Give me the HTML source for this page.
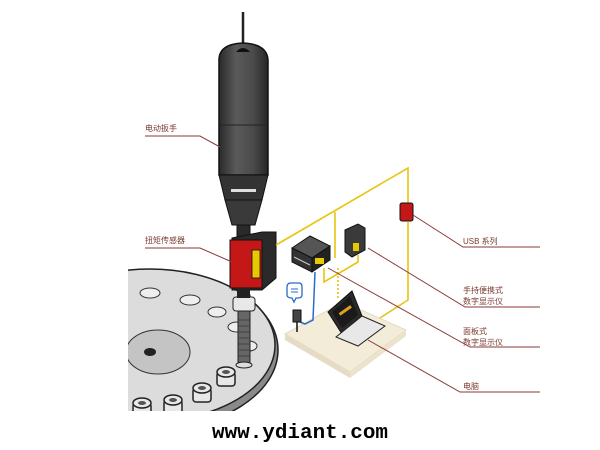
<!DOCTYPE html>
<html><head><meta charset="utf-8"><style>
html,body{margin:0;padding:0;background:#fff;}
svg{display:block;}
.l{font-family:"Liberation Sans","Noto Sans CJK SC",sans-serif;font-size:8px;fill:#7a3a30;}
</style></head><body>
<svg width="600" height="450" viewBox="0 0 600 450" xmlns="http://www.w3.org/2000/svg">
<defs>
<linearGradient id="tg" x1="0" x2="1"><stop offset="0" stop-color="#2a2a2a"/><stop offset="0.35" stop-color="#5a5a5a"/><stop offset="0.7" stop-color="#4a4a4a"/><stop offset="1" stop-color="#262626"/></linearGradient>
<clipPath id="dc"><rect x="128" y="0" width="300" height="411"/></clipPath>
</defs>
<g clip-path="url(#dc)">
<ellipse cx="150" cy="350" rx="128" ry="80" fill="#8a8a8a" stroke="#222" stroke-width="1.5"/>
<ellipse cx="150" cy="345" rx="125" ry="76" fill="#dcdcdc" stroke="#222" stroke-width="1.5"/>
<ellipse cx="158" cy="352" rx="32" ry="22" fill="#c4c4c4" stroke="#333"/>
<ellipse cx="150" cy="352" rx="6" ry="4" fill="#222"/>
<ellipse cx="150" cy="293" rx="10" ry="5" fill="#eee" stroke="#333"/>
<ellipse cx="190" cy="300" rx="10" ry="5" fill="#eee" stroke="#333"/>
<ellipse cx="217" cy="312" rx="9" ry="5" fill="#eee" stroke="#333"/>
<ellipse cx="237" cy="327" rx="9" ry="5" fill="#eee" stroke="#333"/>
<ellipse cx="249" cy="346" rx="8" ry="5" fill="#eee" stroke="#333"/>
<g fill="#e8e8e8" stroke="#222" stroke-width="1.5">
<rect x="217" y="372" width="18" height="14" rx="3"/><ellipse cx="226" cy="372" rx="9" ry="5"/>
<rect x="193" y="388" width="18" height="14" rx="3"/><ellipse cx="202" cy="388" rx="9" ry="5"/>
<rect x="164" y="400" width="18" height="14" rx="3"/><ellipse cx="173" cy="400" rx="9" ry="5"/>
<rect x="133" y="403" width="18" height="14" rx="3"/><ellipse cx="142" cy="403" rx="9" ry="5"/>
</g>
<g fill="#555"><ellipse cx="226" cy="372" rx="4" ry="2"/><ellipse cx="202" cy="388" rx="4" ry="2"/><ellipse cx="173" cy="400" rx="4" ry="2"/><ellipse cx="142" cy="403" rx="4" ry="2"/></g>
</g>
<rect x="238" y="295" width="12" height="70" fill="#666" stroke="#222"/>
<g stroke="#333" stroke-width="0.7"><line x1="238" y1="320" x2="250" y2="320"/><line x1="238" y1="326" x2="250" y2="326"/><line x1="238" y1="332" x2="250" y2="332"/><line x1="238" y1="338" x2="250" y2="338"/><line x1="238" y1="344" x2="250" y2="344"/><line x1="238" y1="350" x2="250" y2="350"/><line x1="238" y1="356" x2="250" y2="356"/></g>
<rect x="233" y="297" width="22" height="14" rx="3" fill="#e8e8e8" stroke="#222"/>
<ellipse cx="244" cy="365" rx="8" ry="3" fill="#ddd" stroke="#222"/>
<line x1="243" y1="12" x2="243" y2="46" stroke="#222" stroke-width="2.5"/>
<path d="M219 60 Q219 44 243 43 Q267 44 268 60 L268 175 L219 175 Z" fill="url(#tg)" stroke="#111" stroke-width="1.5"/>
<path d="M236 52 Q243 44 250 52 Z" fill="#111"/>
<line x1="219" y1="125" x2="268" y2="125" stroke="#222"/>
<path d="M219 175 L268 175 L262 200 L225 200 Z" fill="#333" stroke="#111"/>
<rect x="231" y="189" width="25" height="3" fill="#ddd"/>
<path d="M225 200 L262 200 L255 225 L232 225 Z" fill="#3a3a3a" stroke="#111"/>
<rect x="237" y="225" width="13" height="15" fill="#2a2a2a" stroke="#111"/>
<path d="M232 238 L262 232 L276 232 L276 278 L262 290 L232 290 Z" fill="#2a2a2a" stroke="#111"/>
<path d="M230 240 L262 240 L262 288 L230 288 Z" fill="#c41818" stroke="#111"/>
<rect x="252" y="250" width="8" height="28" fill="#e8c800" stroke="#111" stroke-width="0.8"/>
<rect x="237" y="288" width="13" height="10" fill="#222"/>
<polygon points="285,334 343,302 406,330 350,372" fill="#f3ecd8" stroke="#e2dac5"/>
<polygon points="285,334 350,372 350,378 285,340" fill="#e5dcc3"/>
<polygon points="350,372 406,330 406,336 350,378" fill="#ebe3cc"/>
<g stroke="#e8c410" stroke-width="1.6" fill="none">
<polyline points="276,245 408,168 408,205"/>
<polyline points="408,222 408,300 380,318"/>
<polyline points="335,212 335,258"/>
<polyline points="324,268 324,282 358,262 358,255"/>
<line x1="338" y1="268" x2="338" y2="300" stroke-dasharray="2,2"/>
</g>
<polygon points="292,248 310,236 330,246 312,258" fill="#555" stroke="#111"/>
<polygon points="292,248 312,258 312,272 292,262" fill="#333" stroke="#111"/>
<polygon points="312,258 330,246 330,260 312,272" fill="#222" stroke="#111"/>
<rect x="315" y="258" width="9" height="6" fill="#e8c800"/>
<line x1="294" y1="257" x2="310" y2="265" stroke="#ccc"/>
<path d="M345 230 L358 224 L365 228 L365 250 L352 257 L345 252 Z" fill="#3a3a3a" stroke="#111"/>
<rect x="353" y="243" width="6" height="8" fill="#e8c800"/>
<rect x="400" y="203" width="13" height="18" rx="2" fill="#c41818" stroke="#111"/>
<polyline points="315,272 313,320 305,324 300,322" stroke="#2a6ac8" stroke-width="1.5" fill="none"/>
<path d="M287 287 Q287 283 291 283 L299 283 Q302 283 302 287 L302 295 Q302 298 298 298 L296 298 L294 302 L292 298 Q287 298 287 295 Z" fill="#fff" stroke="#2a6ac8" stroke-width="1.3"/>
<line x1="291" y1="289" x2="298" y2="289" stroke="#2a6ac8"/><line x1="291" y1="292" x2="298" y2="292" stroke="#2a6ac8"/>
<rect x="293" y="310" width="8" height="12" fill="#444" stroke="#111"/>
<line x1="297" y1="322" x2="297" y2="332" stroke="#111" stroke-width="1.5"/>
<polygon points="328,312 352,291 362,316 342,334" fill="#2a2a2a" stroke="#111"/>
<polygon points="332,312 350,296 358,315 342,328" fill="#1a1a1a"/>
<rect x="338" y="309" width="14" height="3" fill="#e0a020" transform="rotate(-35 345 310)"/>
<polygon points="336,337 362,316 385,326 358,346" fill="#e8e8e8" stroke="#222"/>
<g stroke="#8b3a3a" stroke-width="1" fill="none">
<polyline points="145,136 200,136 220,147"/>
<polyline points="145,248 200,248 232,262"/>
<polyline points="413,215 463,247 540,247"/>
<polyline points="368,248 465,307 540,307"/>
<polyline points="328,268 470,347 540,347"/>
<polyline points="368,340 460,392 540,392"/>
</g>
<text class="l" x="145" y="131">电动扳手</text>
<text class="l" x="145" y="243">扭矩传感器</text>
<text class="l" x="463" y="244">USB 系列</text>
<text class="l" x="463" y="293">手持便携式</text>
<text class="l" x="463" y="304">数字显示仪</text>
<text class="l" x="463" y="334">面板式</text>
<text class="l" x="463" y="345">数字显示仪</text>
<text class="l" x="463" y="389">电脑</text>
<text x="212" y="438" font-family="Liberation Mono,monospace" font-weight="bold" font-size="20" textLength="176" lengthAdjust="spacingAndGlyphs" fill="#000">www.ydiant.com</text>
</svg>
</body></html>
